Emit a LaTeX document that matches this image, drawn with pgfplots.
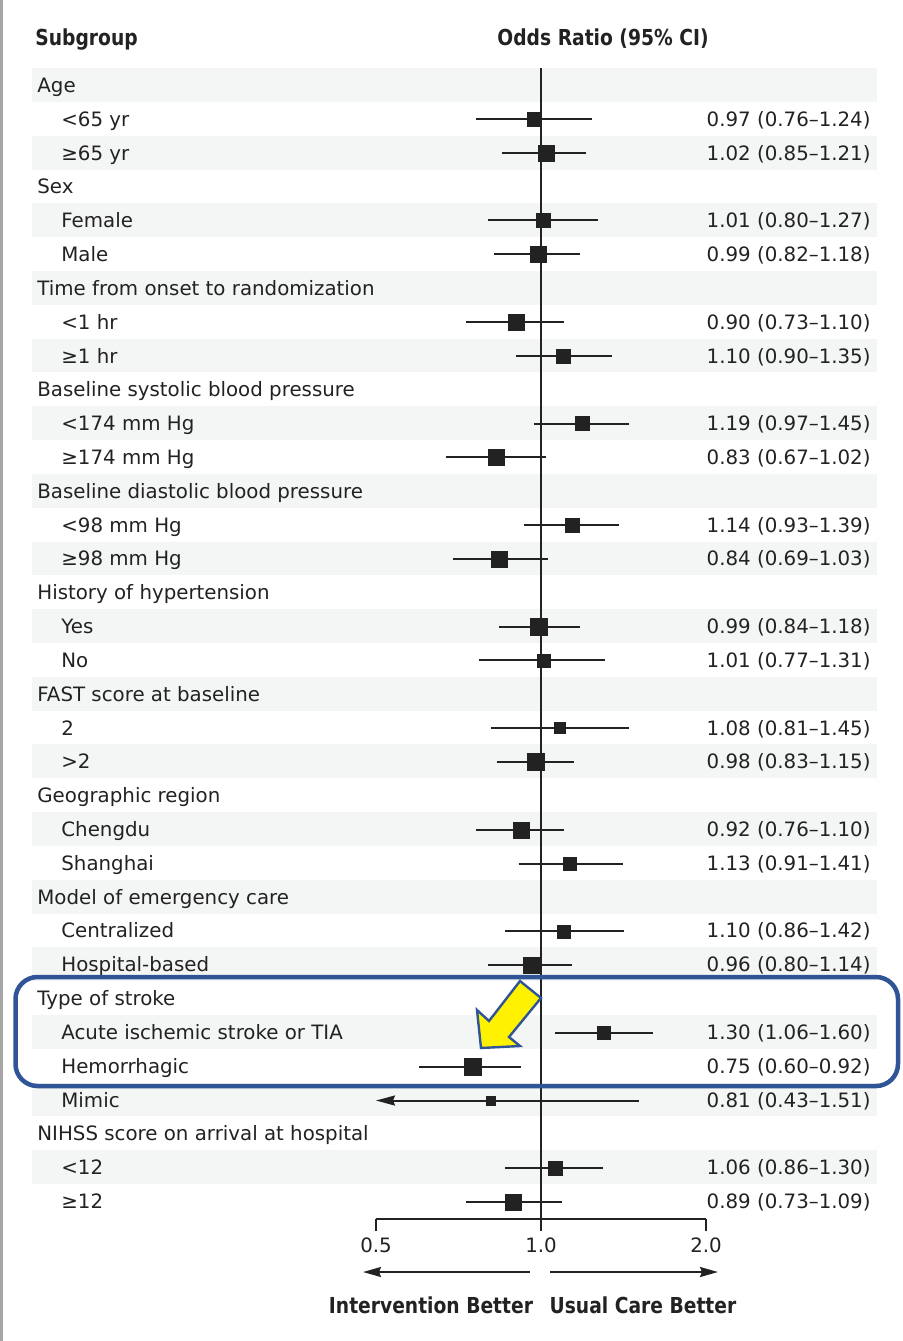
\documentclass[border=0pt]{standalone}
\usepackage{fontspec}
\setmainfont{DejaVu Sans}
\usepackage{pgfplots}
\usepackage{pgfplotstable}
\pgfplotsset{compat=1.18}
\usetikzlibrary{arrows.meta}
\definecolor{rowshade}{RGB}{244,245,245}
\definecolor{nejmblue}{RGB}{47,85,151}
\definecolor{ink}{RGB}{34,34,34}
\newcommand{\hdr}[1]{\scalebox{0.85}[1]{\bfseries\fontsize{11}{13}\selectfont #1}}

% confidence intervals (nan rows break the line)
\pgfplotstableread{
lo row
0.76 2
1.24 2
nan nan
0.85 3
1.21 3
nan nan
0.80 5
1.27 5
nan nan
0.82 6
1.18 6
nan nan
0.73 8
1.10 8
nan nan
0.90 9
1.35 9
nan nan
0.97 11
1.45 11
nan nan
0.67 12
1.02 12
nan nan
0.93 14
1.39 14
nan nan
0.69 15
1.03 15
nan nan
0.84 17
1.18 17
nan nan
0.77 18
1.31 18
nan nan
0.81 20
1.45 20
nan nan
0.83 21
1.15 21
nan nan
0.76 23
1.10 23
nan nan
0.91 24
1.41 24
nan nan
0.86 26
1.42 26
nan nan
0.80 27
1.14 27
nan nan
1.06 29
1.60 29
nan nan
0.60 30
0.92 30
nan nan
0.86 33
1.30 33
nan nan
0.73 34
1.09 34
}\ci

% point estimates, ms = half side of square in pt
\pgfplotstableread{
or row ms
0.97 2 3.5
1.02 3 4
1.01 5 3.5
0.99 6 4
0.90 8 4
1.10 9 3.5
1.19 11 3.5
0.83 12 4
1.14 14 3.5
0.84 15 4
0.99 17 4.25
1.01 18 3.25
1.08 20 2.75
0.98 21 4.25
0.92 23 4
1.13 24 3.25
1.10 26 3.25
0.96 27 4
1.30 29 3.25
0.75 30 4.25
0.81 31 2.25
1.06 33 3.5
0.89 34 4
}\est

\begin{document}
\fontsize{9.9}{12}\selectfont
\begin{tikzpicture}
\begin{scope}[x=0.5pt,y=-0.5pt]
\useasboundingbox (0,0) rectangle (902,1341);
\draw[gray!70, line width=1.25pt] (1.5,0) -- (1.5,1341);
\foreach \n in {1,3,...,33} {
  \fill[rowshade] (32,{85+(\n-1)*33.818-16.909}) rectangle (877,{85+(\n-1)*33.818+16.909});
}
\end{scope}

\begin{axis}[
  at={(188pt,-609.485pt)}, anchor=south west,
  scale only axis, width=165pt, height=575.44pt,
  xmode=log, log basis x=2,
  xmin=0.5, xmax=2, ymin=0.5, ymax=34.5, y dir=reverse,
  clip=false,
  axis x line*=bottom, axis y line=none,
  xtick={0.5,1,2}, xticklabels={0.5,1.0,2.0},
  xminorticks=false, ytick=\empty,
  tick align=outside, major tick length=6pt,
  every tick/.style={ink, line width=1pt},
  axis line style={ink, line width=1pt},
  xticklabel style={font=\fontsize{9.9}{12}\selectfont, text=ink},
  /pgf/number format/assume math mode=true,
]
\addplot[ink, line width=1pt] coordinates {(1,0.5) (1,34.85)};
\addplot[ink, line width=1pt, unbounded coords=jump] table[x=lo, y=row] {\ci};
\addplot[ink, line width=1pt, -{Stealth[length=9.5pt,width=5pt,inset=1pt]}] coordinates {(1.51,31) (0.5,31)};
\addplot[scatter, only marks, mark=square*,
  scatter/use mapped color={draw=ink, fill=ink},
  visualization depends on={\thisrow{ms} \as \ms},
  scatter/@pre marker code/.append style={/tikz/mark size=\ms},
  mark options={line width=0.2pt}] table[x=or, y=row] {\est};
\end{axis}

\begin{scope}[x=0.5pt,y=-0.5pt]
% group headings
\foreach \n/\t in {1/Age, 4/Sex, 7/Time from onset to randomization, 10/Baseline systolic blood pressure, 13/Baseline diastolic blood pressure, 16/History of hypertension, 19/FAST score at baseline, 22/Geographic region, 25/Model of emergency care, 28/Type of stroke, 32/NIHSS score on arrival at hospital} {
  \node[anchor=base west, inner sep=0pt, text=ink] at (37,{85+(\n-1)*33.818+7.5}) {\t};
}
% subgroups
\foreach \n/\t in {2/<65 yr, 3/≥65 yr, 5/Female, 6/Male, 8/<1 hr, 9/≥1 hr, 11/<174 mm Hg, 12/≥174 mm Hg, 14/<98 mm Hg, 15/≥98 mm Hg, 17/Yes, 18/No, 20/2, 21/>2, 23/Chengdu, 24/Shanghai, 26/Centralized, 27/Hospital-based, 29/Acute ischemic stroke or TIA, 30/Hemorrhagic, 31/Mimic, 33/<12, 34/≥12} {
  \node[anchor=base west, inner sep=0pt, text=ink] at (61,{85+(\n-1)*33.818+7.5}) {\t};
}
% odds ratio text
\foreach \n/\t in {2/0.97 (0.76–1.24), 3/1.02 (0.85–1.21), 5/1.01 (0.80–1.27), 6/0.99 (0.82–1.18), 8/0.90 (0.73–1.10), 9/1.10 (0.90–1.35), 11/1.19 (0.97–1.45), 12/0.83 (0.67–1.02), 14/1.14 (0.93–1.39), 15/0.84 (0.69–1.03), 17/0.99 (0.84–1.18), 18/1.01 (0.77–1.31), 20/1.08 (0.81–1.45), 21/0.98 (0.83–1.15), 23/0.92 (0.76–1.10), 24/1.13 (0.91–1.41), 26/1.10 (0.86–1.42), 27/0.96 (0.80–1.14), 29/1.30 (1.06–1.60), 30/0.75 (0.60–0.92), 31/0.81 (0.43–1.51), 33/1.06 (0.86–1.30), 34/0.89 (0.73–1.09)} {
  \node[anchor=base east, inner sep=0pt, text=ink] at (871,{85+(\n-1)*33.818+7.5}) {\t};
}

% headers
\node[anchor=base west, inner sep=0pt, text=ink] at (35,45) {\hdr{Subgroup}};
\node[anchor=base, inner sep=0pt, text=ink] at (603,45) {\hdr{Odds Ratio (95\% CI)}};

% direction arrows
\draw[ink, line width=1pt, -{Stealth[length=9pt,width=5pt,inset=1pt]}] (530,1272) -- (363,1272);
\draw[ink, line width=1pt, -{Stealth[length=9pt,width=5pt,inset=1pt]}] (550,1272) -- (718,1272);
\node[anchor=base, inner sep=0pt, text=ink] at (431,1313) {\hdr{Intervention Better}};
\node[anchor=base, inner sep=0pt, text=ink] at (643,1313) {\hdr{Usual Care Better}};

% highlight
\draw[nejmblue, line width=2.25pt, rounded corners=11pt] (15.5,977) rectangle (898,1086);
\filldraw[fill=yellow, draw=nejmblue, line width=1.2pt, line join=miter] (481,1048) -- (477,1010) -- (489,1021) -- (520,981) -- (541,998) -- (509,1037) -- (520,1046) -- cycle;
\end{scope}
\end{tikzpicture}
\end{document}
